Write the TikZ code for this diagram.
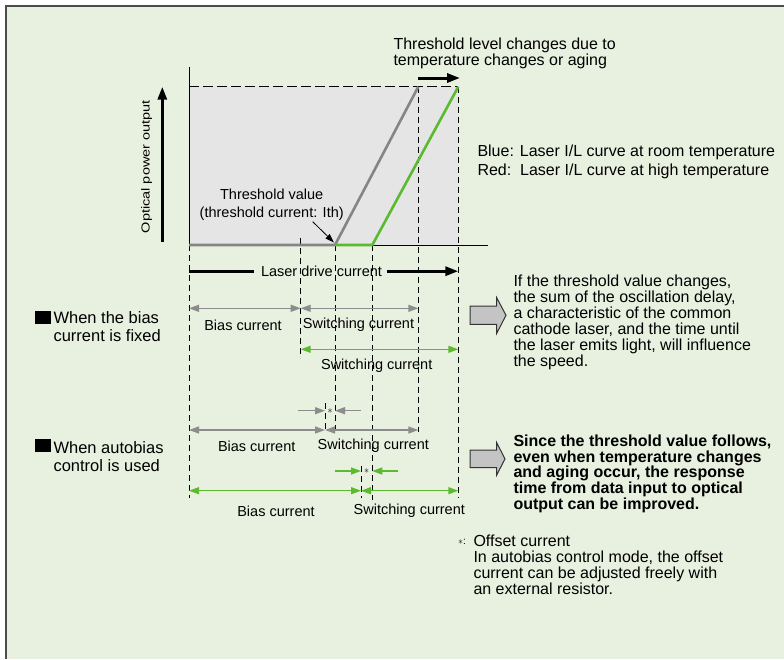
\documentclass[tikz,border=0pt]{standalone}
\usepackage{fontspec}
\setmainfont{Liberation Sans}
\usetikzlibrary{arrows.meta}
\definecolor{bggreen}{HTML}{E8F0E0}
\definecolor{plotgray}{HTML}{E4E5E4}
\definecolor{curvegray}{HTML}{858585}
\definecolor{dimgray}{HTML}{8C8C8C}
\definecolor{ilgreen}{HTML}{5BBA2F}
\definecolor{arrgray}{HTML}{C4C4C4}
\newcommand\fsz[2]{\fontsize{#1}{#2}\selectfont}

\begin{document}
\begin{tikzpicture}[x=1pt,y=-1pt,
	dashln/.style={line width=0.8pt, dash pattern=on 6pt off 4pt},
	dimgr/.style={draw=dimgray, line width=1.4pt, {Triangle[length=10pt,width=7pt]}-{Triangle[length=10pt,width=7pt]}},
	dimgn/.style={draw=ilgreen, line width=1.4pt, {Triangle[length=10pt,width=7pt]}-{Triangle[length=10pt,width=7pt]}},
	offgr/.style={draw=dimgray, line width=1.4pt, -{Triangle[length=10pt,width=7pt]}},
	offgn/.style={draw=ilgreen, line width=1.4pt, -{Triangle[length=10pt,width=7pt]}},
	thick arrow/.style={line width=3pt, -{Triangle[length=13pt,width=9pt]}},
	dimlabel/.style={font=\fsz{14.5}{17}, inner sep=0pt},
	bigarrow/.style={fill=arrgray, draw=black!80, line width=1pt}]
			%%%%% START %%%%%
			
			\useasboundingbox (0, 0) rectangle (784, 659);
			\fill[white] (0, 0) rectangle (784, 659);
			\fill[bggreen] (6, 6) rectangle (784, 659);
			\draw[line width=2pt, color=black!70] (6, 659) -- (6, 6) -- (784, 6);
			
			% graph
			\fill[plotgray] (189, 86.7) rectangle (458.3, 245);
			\draw[line width=0.8pt] (189, 66.7) -- (189, 245) -- (488, 245);
			\draw[line width=0.8pt, dash pattern=on 10pt off 4pt] (189, 86.7) -- (458.3, 86.7);
			
			\draw[dashln] (189, 245) -- (189, 498);
			\draw[dashln] (300.7, 238) -- (300.7, 358);
			\draw[dashln] (335, 245) -- (335, 432);
			\draw[dashln] (372.3, 245) -- (372.3, 500);
			\draw[dashln] (418.3, 86.7) -- (418.3, 432);
			\draw[dashln] (458.3, 86.7) -- (458.3, 498);
			\draw[dashln] (325, 403) -- (325, 432);
			\draw[dashln] (361, 466) -- (361, 498);
			
			\draw[line width=2.6pt, color=curvegray, line join=round] (189, 245) -- (335, 245) -- (418.3, 86.7);
			\draw[line width=2.6pt, color=ilgreen, line join=round] (335, 245) -- (372.3, 245) -- (458.3, 86.7);
			
			\draw[thick arrow] (162.3, 241.7) -- (162.3, 86.7);
			\draw[thick arrow] (418.3, 78) -- (460, 78);
			
			\node[font=\fsz{14.5}{16}, rotate=90, yscale=0.8, inner sep=0pt] (ylab) at (146.7, 166.7) {Optical power output};
			\node[font=\fsz{16}{16}, align=left, anchor=north west, inner sep=0pt] (shift) at (393.3, 38) {Threshold level changes due to\\temperature changes or aging};
			\node[font=\fsz{14.5}{18}, align=center, inner sep=0pt] (thval) at (271.7, 204.5) {Threshold value\\(threshold current: Ith)};
			\coordinate (thtip) at (334, 242.5);
			\draw[line width=0.8pt, -{Triangle[length=9pt,width=6pt]}] (312.7, 221.7) -- (thtip);
			
			\node[font=\fsz{16}{19.3}, align=left, anchor=north west, inner sep=0pt] (legend) at (477.3, 144.7) {Blue: Laser I/L curve at room temperature\\Red:\ \ Laser I/L curve at high temperature};
			
			% laser drive current
			\node[font=\fsz{14.5}{17}, inner sep=0pt] (ldc) at (321.5, 271.2) {Laser drive current};
			\coordinate (ldcl) at (189, 271.2);
			\coordinate (ldcr) at (458.3, 271.2);
			\draw[line width=3pt] ([xshift=-7pt]ldc.west) -- (ldcl);
			\draw[thick arrow] ([xshift=5pt]ldc.east) -- (ldcr);
			
			% bias current fixed
			\draw[fill=black] (35, 311) rectangle (50, 323.5);
			\node[font=\fsz{16.5}{18.3}, align=left, anchor=north west, inner sep=0pt] (fixlbl) at (53.3, 311.5) {When the bias\\current is fixed};
			\draw[dimgr] (189, 308.3) -- (300.7, 308.3);
			\draw[dimgr] (300.7, 308.3) -- (418.3, 308.3);
			\node[dimlabel] (fixbias) at (243, 325) {Bias current};
			\node[dimlabel] (fixsw) at (358.5, 325) {Switching current};
			\draw[dimgn] (300.7, 349.3) -- (458.3, 349.3);
			\node[dimlabel] (fixswg) at (376.7, 365.5) {Switching current};
			
			% autobias
			\draw[fill=black] (35, 439.5) rectangle (50, 451.5);
			\node[font=\fsz{16.5}{18.3}, align=left, anchor=north west, inner sep=0pt] (autolbl) at (53.3, 441) {When autobias\\control is used};
			\draw[offgr] (298, 410.7) -- (325, 410.7);
			\draw[offgr] (361, 410.7) -- (335, 410.7);
			\node[font=\fsz{10}{10}, inner sep=0pt] (astgr) at (330, 411) {$\ast$};
			\draw[dimgr] (189, 430) -- (325, 430);
			\draw[dimgr] (325, 430) -- (418.3, 430);
			\node[dimlabel] (autobias) at (256.7, 446) {Bias current};
			\node[dimlabel] (autosw) at (373.3, 446) {Switching current};
			
			\draw[offgn] (335, 471) -- (361, 471);
			\draw[offgn] (397.7, 471) -- (372.3, 471);
			\node[font=\fsz{10}{10}, inner sep=0pt] (astgn) at (366.7, 471.5) {$\ast$};
			\draw[dimgn] (189, 490.7) -- (361, 490.7);
			\draw[dimgn] (361, 490.7) -- (458.3, 490.7);
			\node[dimlabel] (autobiasg) at (276, 511) {Bias current};
			\node[dimlabel] (autoswg) at (409.3, 511) {Switching current};
			
			% result arrows
			\draw[bigarrow] (470, 306) -- (496.7, 306) -- (496.7, 297.7) -- (506, 315.3) -- (496.7, 333.3) -- (496.7, 324.3) -- (470, 324.3) -- cycle;
			\node[font=\fsz{16}{16}, align=left, anchor=north west, inner sep=0pt] (fixres) at (513.3, 275) {If the threshold value changes,\\the sum of the oscillation delay,\\a characteristic of the common\\cathode laser, and the time until\\the laser emits light, will influence\\the speed.};
			
			\draw[bigarrow] (470, 450) -- (496.7, 450) -- (496.7, 442.7) -- (505, 458.9) -- (496.7, 475) -- (496.7, 467.7) -- (470, 467.7) -- cycle;
			\node[font=\fsz{16}{15.7}\bfseries, align=left, anchor=north west, inner sep=0pt] (autores) at (513.3, 434.7) {Since the threshold value follows,\\even when temperature changes\\and aging occur, the response\\time from data input to optical\\output can be improved.};
			
			% note
			\node[font=\fsz{10}{10}, inner sep=0pt, anchor=east] (astnote) at (466, 542) {$\ast$:};
			\node[font=\fsz{16}{16}, align=left, anchor=north west, inner sep=0pt] (note) at (473.3, 534.7) {Offset current\\In autobias control mode, the offset\\current can be adjusted freely with\\an external resistor.};
			
			%%%%% END %%%%%
		\end{tikzpicture}
\end{document}
